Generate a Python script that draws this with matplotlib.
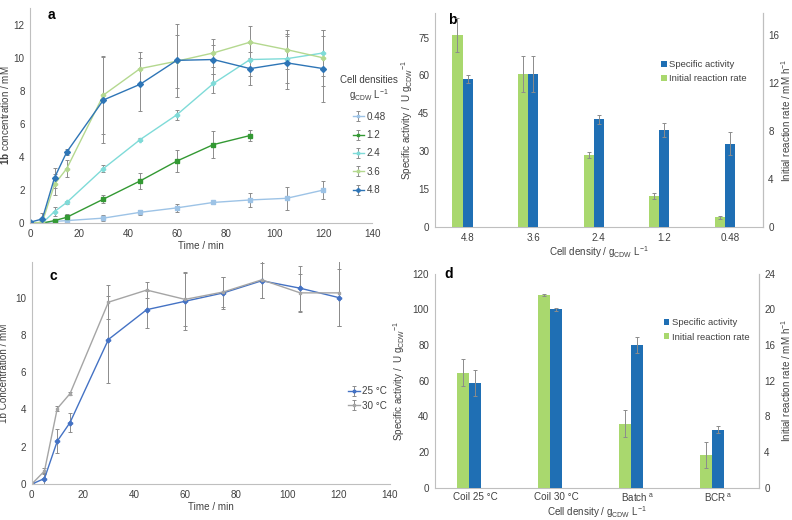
import matplotlib
matplotlib.use("Agg")
import matplotlib.pyplot as plt
import numpy as np

plt.rcParams['font.family'] = ['Liberation Sans', 'DejaVu Sans']
plt.rcParams['mathtext.fontset'] = 'custom'
plt.rcParams['mathtext.rm'] = 'Liberation Sans'
plt.rcParams['mathtext.bf'] = 'Liberation Sans:bold'
plt.rcParams['mathtext.it'] = 'Liberation Sans:italic'
FS = 7.1
plt.rcParams['font.size'] = FS

# ---- panel a data ----
time = [0, 5, 10, 15, 30, 45, 60, 75, 90, 105, 120]
densities = ['0.48', '1.2', '2.4', '3.6', '4.8']
conc_048 = [0, 0, 0.1, 0.15, 0.3, 0.65, 0.92, 1.25, 1.4, 1.5, 2.0]
err_048 = [0, 0, 0.05, 0.05, 0.2, 0.15, 0.25, 0.1, 0.4, 0.7, 0.55]
time_12 = [0, 5, 10, 15, 30, 45, 60, 75, 90]
conc_12 = [0, 0, 0.15, 0.35, 1.45, 2.55, 3.75, 4.75, 5.3]
err_12 = [0, 0, 0.1, 0.2, 0.25, 0.5, 0.65, 0.8, 0.35]
conc_24 = [0, 0, 0.7, 1.25, 3.3, 5.05, 6.55, 8.45, 9.9, 9.95, 10.3]
err_24 = [0, 0, 0.25, 0.1, 0.2, 0.1, 0.3, 0.6, 1.0, 1.5, 1.4]
conc_36 = [0, 0.05, 2.35, 3.3, 7.75, 9.35, 9.8, 10.3, 10.95, 10.5, 10.0]
err_36 = [0, 0.1, 0.65, 0.5, 2.35, 1.0, 1.6, 0.85, 0.95, 1.2, 1.7]
conc_48 = [0.05, 0.25, 2.75, 4.3, 7.45, 8.4, 9.85, 9.9, 9.35, 9.7, 9.35]
err_48 = [0, 0.35, 0.6, 0.2, 2.6, 1.6, 2.2, 0.9, 1.0, 1.6, 2.0]

# ---- panel b data ----
cell_density = ['4.8', '3.6', '2.4', '1.2', '0.48']
spec_act_b = [58.6, 60.6, 42.6, 38.5, 33.1]
spec_act_b_err = [1.6, 7.0, 1.9, 2.8, 4.5]
init_rate_b = [16.0, 12.75, 5.97, 2.61, 0.84]
init_rate_b_err = [1.41, 1.47, 0.25, 0.25, 0.13]

# ---- panel c data ----
conc_25 = [0, 0.3, 2.3, 3.3, 7.75, 9.35, 9.8, 10.25, 10.9, 10.5, 10.0]
err_25 = [0, 0.3, 0.65, 0.5, 2.35, 1.0, 1.55, 0.85, 0.95, 1.2, 1.55]
conc_30 = [0, 0.7, 4.05, 4.85, 9.75, 10.4, 9.9, 10.3, 10.95, 10.25, 10.25]
err_30 = [0, 0.15, 0.15, 0.1, 0.9, 0.45, 1.4, 0.8, 1.0, 1.0, 1.8]

# ---- panel d data ----
setups = ['Coil 25 °C', 'Coil 30 °C', 'Batch$^{\\ \\mathregular{a}}$', 'BCR$^{\\ \\mathregular{a}}$']
spec_act_d = [58.8, 100.0, 79.8, 32.6]
spec_act_d_err = [7.4, 0.8, 4.4, 1.8]
init_rate_d = [12.9, 21.6, 7.18, 3.68]
init_rate_d_err = [1.5, 0.15, 1.48, 1.44]

gray = '#bfbfbf'
txt = '#404040'
blue_bar = '#1f6fb4'
green_bar = '#a9d86e'
cdw = r'g$_{\mathregular{CDW}}$'
ekw = dict(ecolor='#8c8c8c', elinewidth=0.7, capsize=1.5, capthick=0.7)


def style(ax, right=False):
    for s in ['top', 'right']:
        ax.spines[s].set_visible(False)
    if right:
        ax.spines['right'].set_visible(True)
    for s in ax.spines.values():
        s.set_color(gray)
        s.set_linewidth(0.8)
    ax.tick_params(length=0, colors=txt, labelsize=FS, pad=4)


fig = plt.figure(figsize=(7.92, 5.2), dpi=100)

# ---------------- a ----------------
axa = fig.add_axes([0.038, 0.571, 0.432, 0.413])
series_a = [
    (time, conc_048, err_048, '#9dc3e6', 's'),
    (time_12, conc_12, err_12, '#339933', 's'),
    (time, conc_24, err_24, '#7fdbd8', 'P'),
    (time, conc_36, err_36, '#b4d88f', 'P'),
    (time, conc_48, err_48, '#2e75b6', 'D'),
]
for (t, c, e, col, m), lab in zip(series_a, densities):
    axa.errorbar(t, c, yerr=e, color=col, marker=m, markersize=3, lw=1,
                 label=lab, **ekw)
axa.set_xlim(0, 140)
axa.set_ylim(0, 13)
axa.set_xticks(np.arange(0, 141, 20))
axa.set_yticks(np.arange(0, 13, 2))
axa.set_xlabel('Time / min', color=txt, fontsize=FS, labelpad=2)
axa.set_ylabel(r'$\mathbf{1b}$ concentration / mM', color=txt, fontsize=FS)
axa.yaxis.set_label_coords(-0.057, 0.5)
style(axa)
leg = axa.legend(loc='upper left', bbox_to_anchor=(0.88, 0.73), frameon=False,
                 fontsize=FS, title='Cell densities\n' + cdw + ' L$^{-1}$',
                 title_fontsize=7, handlelength=1.2, handletextpad=0.2,
                 labelspacing=0.85, markerscale=0.7)
for t in leg.get_texts():
    t.set_color(txt)
leg.get_title().set_color(txt)
leg.get_title().set_multialignment('center')
axa.text(0.05, 1.0, 'a', transform=axa.transAxes, fontsize=10, fontweight='bold',
         va='top', ha='left')

# ---------------- b ----------------
axb = fig.add_axes([0.549, 0.563, 0.414, 0.412])
axb2 = axb.twinx()
xb = np.arange(len(cell_density))
w = 0.155
axb.bar(xb, spec_act_b, w, color=blue_bar, yerr=spec_act_b_err, error_kw=ekw,
        label='Specific activity', zorder=3)
axb2.bar(xb - w, init_rate_b, w, color=green_bar, yerr=init_rate_b_err, error_kw=ekw,
         label='Initial reaction rate', zorder=3)
axb.set_xlim(-0.5, len(cell_density) - 0.5)
axb.set_ylim(0, 84.7)
axb2.set_ylim(0, 84.7 / 4.754)
axb.set_yticks(np.arange(0, 76, 15))
axb2.set_yticks(np.arange(0, 17, 4))
axb.set_xticks(xb)
axb.set_xticklabels(cell_density)
axb.set_xlabel('Cell density / ' + cdw + ' L$^{-1}$', color=txt, fontsize=FS, labelpad=1)
axb.set_ylabel('Specific activity /  U ' + cdw + '$^{-1}$', color=txt, fontsize=FS)
axb2.set_ylabel('Initial reaction rate / mM h$^{-1}$', color=txt, fontsize=FS)
axb.yaxis.set_label_coords(-0.059, 0.5)
axb2.yaxis.set_label_coords(1.050, 0.5)
style(axb, right=True)
style(axb2, right=True)
axb2.spines['left'].set_visible(False)
axb2.spines['bottom'].set_visible(False)
h1, l1 = axb.get_legend_handles_labels()
h2, l2 = axb2.get_legend_handles_labels()
legb = axb2.legend(h1 + h2, l1 + l2, loc='upper left', bbox_to_anchor=(0.665, 0.82),
                   frameon=False, fontsize=6.8, handlelength=0.6, handleheight=0.6,
                   handletextpad=0.25, labelspacing=0.55)
for t in legb.get_texts():
    t.set_color(txt)
axb.text(0.04, 1.0, 'b', transform=axb.transAxes, fontsize=10, fontweight='bold',
         va='top', ha='left')

# ---------------- c ----------------
axc = fig.add_axes([0.040, 0.069, 0.452, 0.427])
axc.errorbar(time, conc_25, yerr=err_25, color='#4472c4', marker='P', markersize=3,
             lw=1, label='25 °C', **ekw)
axc.errorbar(time, conc_30, yerr=err_30, color='#a5a5a5', marker='s', markersize=2,
             lw=1, label='30 °C', **ekw)
axc.set_xlim(0, 140)
axc.set_ylim(0, 11.9)
axc.set_xticks(np.arange(0, 141, 20))
axc.set_yticks(np.arange(0, 11, 2))
axc.set_xlabel('Time / min', color=txt, fontsize=FS, labelpad=2)
axc.set_ylabel('1b Concentration / mM', color=txt, fontsize=FS)
axc.yaxis.set_label_coords(-0.063, 0.5)
style(axc)
legc = axc.legend(loc='upper left', bbox_to_anchor=(0.86, 0.48), frameon=False,
                  fontsize=FS, handlelength=1.2, handletextpad=0.2, labelspacing=0.45,
                  markerscale=0.7)
for t in legc.get_texts():
    t.set_color(txt)
axc.text(0.05, 0.97, 'c', transform=axc.transAxes, fontsize=10, fontweight='bold',
         va='top', ha='left')

# ---------------- d ----------------
axd = fig.add_axes([0.549, 0.062, 0.409, 0.412])
axd2 = axd.twinx()
xd = np.arange(len(setups))
w = 0.15
axd.bar(xd, spec_act_d, w, color=blue_bar, yerr=spec_act_d_err, error_kw=ekw,
        label='Specific activity', zorder=3)
axd2.bar(xd - w, init_rate_d, w, color=green_bar, yerr=init_rate_d_err, error_kw=ekw,
         label='Initial reaction rate', zorder=3)
axd.set_xlim(-0.5, len(setups) - 0.5)
axd.set_ylim(0, 120)
axd2.set_ylim(0, 24)
axd.set_yticks(np.arange(0, 121, 20))
axd2.set_yticks(np.arange(0, 25, 4))
axd.set_xticks(xd)
axd.set_xticklabels(setups)
axd.tick_params(axis='x', pad=3)
axd.set_xlabel('Cell density / ' + cdw + ' L$^{-1}$', color=txt, fontsize=FS, labelpad=0)
axd.set_ylabel('Specific activity /  U ' + cdw + '$^{-1}$', color=txt, fontsize=FS)
axd2.set_ylabel('Initial reaction rate / mM h$^{-1}$', color=txt, fontsize=FS)
axd.yaxis.set_label_coords(-0.085, 0.5)
axd2.yaxis.set_label_coords(1.062, 0.5)
style(axd, right=True)
style(axd2, right=True)
axd.tick_params(axis='x', pad=3)
axd2.spines['left'].set_visible(False)
axd2.spines['bottom'].set_visible(False)
h1, l1 = axd.get_legend_handles_labels()
h2, l2 = axd2.get_legend_handles_labels()
legd = axd2.legend(h1 + h2, l1 + l2, loc='upper left', bbox_to_anchor=(0.68, 0.83),
                   frameon=False, fontsize=6.8, handlelength=0.6, handleheight=0.6,
                   handletextpad=0.25, labelspacing=0.55)
for t in legd.get_texts():
    t.set_color(txt)
axd.text(0.03, 1.03, 'd', transform=axd.transAxes, fontsize=10, fontweight='bold',
         va='top', ha='left')

fig.savefig('out.png', dpi=100)
